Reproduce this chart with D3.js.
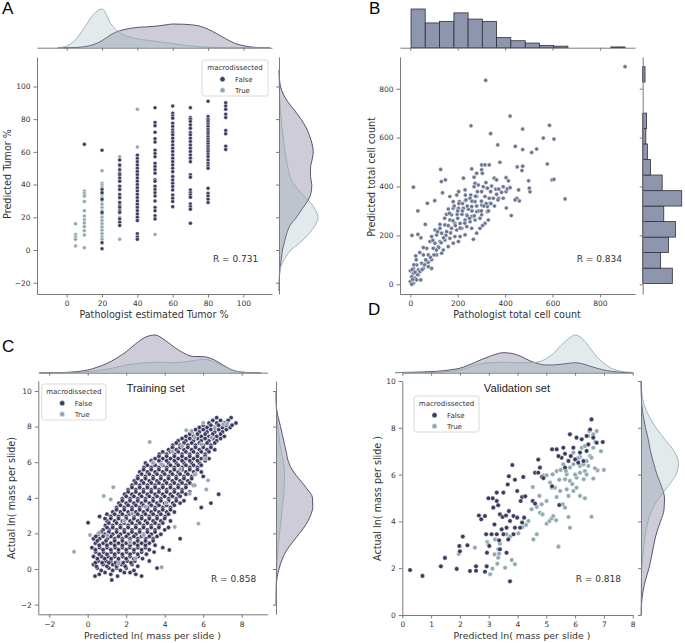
<!DOCTYPE html>
<html><head><meta charset="utf-8">
<script src="https://cdn.jsdelivr.net/npm/d3@7"></script>
<style>body{margin:0;background:#fff}svg{display:block}</style>
</head><body><svg id="c" width="685" height="643"></svg>
<script>
// ---------------- DATA ----------------
// Panel A: pathologist estimate categories and predicted tumor %
const aCategories = [5,10,20,30,40,50,60,70,80,90];
const aFalse = [
  [],
  [64.6],
  [61,37,35,31,23,4.5,0.8],
  [55,52,49,47,46,44,42,39,37,34,32,29,27,26,24,23,19,17,15],
  [58,56,54,52,50,48,46,44,42,40,38,36,34,32,30,28,26,24,22,20,18,10,8,6.5],
  [87,78,76,72,68,66,61,59,57,53,51,49,47,43,42,39,37,35,33,30,26,24,21,19],
  [88,83.6,82,80.6,77.5,75.5,73.4,71.8,70.4,68.3,66.3,64.2,62.2,60.2,58.1,56.1,54,52,50,47.9,44.9,42.8,40.8,38.8,36.7,33.7,31.6,29.6,26.5],
  [87,81,80,78.5,76.5,74.4,71.8,70.4,68.3,66.3,64.2,62.2,60.2,58.1,56.1,54,46,44.5,36.7,35,33.7,32.2,28.2,26.5,24.9,16.3],
  [91,81.6,80,78.5,77,75.5,73.8,72.4,71,69.3,67.7,66.3,64.9,63.2,61.6,60.2,58.7,57.1,55,53,51.4,50,37.7,34.7,33,31,29],
  [90,88,86,83,81,73,71,63.5,61.5]
];
const aTrue = [
  [16,9.5,8,6.5,2.5],
  [36,34.6,33,29.7,24,20.8,18.5,16.5,14.3,11.8,9.2,1.4],
  [48.5,40.8,39.5,38.2,36,34,32,30,28,26,24,22,20,18,16,14,12,10,8,6.5],
  [57,51,43,25,20,6.5],
  [86,63,47,37,27],
  [77,50,9.5],
  [70,55,45],
  [],
  [79,74,68],
  []
];
const aTopGrid  = [-5,0,5,10,15,20,25,30,35,40,45,50,55,60,65,70,75,80,85,90,95,100,105,110,115];
const aTopFalse = [0,0,0.2,1,3,7,13,17,19,20.3,20.8,21.5,22.5,23.7,23.5,23,21.7,18.5,14,9,4.5,2,0.6,0.1,0];
const aTopTrue  = [0,1.6,8,20,33,38.7,24,15,11,8.8,7.5,6.5,5.2,4.2,2.8,1.8,1,0.5,0.2,0,0,0,0,0,0];
const aRightGrid  = [-25,-20,-15,-10,-5,0,5,10,15,20,25,30,35,40,45,50,55,60,65,70,75,80,85,90,95,100,105,110];
const aRightFalse = [0,0.2,0.5,1.2,2.5,3.5,5.5,7.7,11,17.5,23,28.7,32,32.8,31.5,31.5,33,34.3,33,30.5,27,22,16,9.5,4.5,1.5,0.4,0];
const aRightTrue  = [0,0.2,0.6,2,6,12,22,30,36,39,36,30,22,15,11,9,7.5,6,5,4,3,2.3,1.5,1,0.5,0.2,0,0];

// Panel B: pathologist vs predicted total cell count
const bPoints = [
 [906,890],[318,834],[421,688],[256,648],[587,650],[474,635],[339,616],[561,598],[606,594],[369,570],
 [443,564],[474,551],[533,553],[512,539],[378,499],[578,492],[451,480],[474,483],[471,465],[128,470],
 [653,349],[598,427],[606,429],[499,423],[502,393],[505,378],[457,386],[460,341],[449,352],[426,281],
 [405,312],[13,397],[32,300],[7,200],[32,204],[45,190],[63,245],[23,116],[72,331],[103,342],
 [136,374],[131,420],[148,427],[224,434],
 [301,488],[315,488],[333,488],[301,468],[304,454],[269,438],[319,416],[354,434],[364,427],[404,436],
 [414,423],[273,413],[287,406],[269,399],[308,399],[325,393],[343,402],[361,389],[373,389],[339,379],
 [301,379],[283,379],[255,365],[232,365],[204,379],[196,365],[167,359],[181,338],[207,338],[232,342],
 [252,352],[280,359],[315,359],[333,352],[350,352],[373,352],[392,352],[404,379],[409,390],[421,395],
 [442,345],[336,331],[325,318],[301,324],[273,338],[259,318],[245,307],[224,311],[203,311],[181,311],
 [160,308],[153,286],[174,284],[198,286],[218,286],[238,284],[259,277],[280,297],[301,284],[325,297],
 [329,263],[315,249],[305,240],[294,270],[273,263],[252,256],[231,263],[210,249],[188,249],[167,263],
 [146,243],[125,229],[104,222],[90,195],[111,202],[132,209],[153,215],[174,229],[196,222],[217,229],
 [238,236],[259,229],[280,209],[294,229],[231,202],[210,195],[188,195],[167,188],[146,181],[125,175],
 [104,168],[83,175],[69,147],[97,147],[118,154],[139,140],[160,154],[181,168],[203,175],[266,184],
 [55,120],[76,120],[90,100],[111,120],[132,127],[69,93],[48,86],[27,79],[13,65],[34,59],
 [55,65],[76,72],[90,65],[13,45],[34,38],[20,25],[6,31],[0,11],[13,4],[27,18],
 [44,18],[6,0],[0,55],[41,52],[259,472],[280,454],[392,399],[385,376],[364,368],[231,386],
 [200,300],[220,330],[240,280],[260,300],[280,320],[300,340],[320,330],[250,270],[230,250],[210,230],
 [190,240],[170,210],[150,200],[130,170],[270,280],[290,300],[310,320],[330,300],[200,270],[180,260],
 [160,240],[140,190],[120,150],[110,140],[100,120],[85,110],[75,90],[65,100],[240,320],[220,300],
 [300,300],[340,330],[355,320],[370,345],[260,340],[275,360],[235,345],[205,330],[185,320],[165,290],
 [145,270],[125,245],[115,215],[95,180],[60,80],[50,60],[30,40],[20,50],[25,100],[40,130],
 [55,150],[15,80],[10,20],[8,60]
];
const bTopEdges  = [3,63,123,184,244,304,364,424,485,545,605,665,725,786,846,906];
const bTopCounts = [50,32,34,45,37,34,13,9,6,3,2,0,0,0,1];
const bRightEdges  = [3,66,130,193,257,320,383,447,510,574,637,700,764,827,890];
const bRightCounts = [38,23,33,42,27,50,25,10,6,4,5,0,0,3];

// Panel C: training set, rows of [actual, [predicted...]]
const cFalseRows = [
 [-0.62,[1.25]],[-0.4,[0.38,1.55,2.8]],[-0.2,[0.9,1.9,2.2]],[0.05,[0.5,1.1,1.5,2.0,3.6]],
 [0.25,[0.3,0.8,1.3,1.75,2.3]],[0.45,[0.55,0.95,1.2,1.6,2.05,2.45,3.2]],
 [0.7,[0.3,0.72,1.05,1.4,1.82,2.2,2.62]],[0.95,[0.42,0.82,1.22,1.6,2.02,2.4,2.8,3.45]],
 [1.07,[4.24]],[1.2,[0.22,0.62,1.0,1.42,1.8,2.18,2.6,3.0,3.9]],[1.45,[0.4,0.8,1.2,1.6,2.0,2.42,2.8,3.2]],
 [1.7,[0.3,0.62,1.02,1.4,1.8,2.2,2.6,3.02,3.4,4.8]],[1.95,[0.55,0.9,1.3,1.7,2.1,2.5,2.9,3.3,3.8]],
 [2.2,[0.8,1.12,1.5,1.9,2.3,2.7,3.1,3.5,4.0]],[2.45,[0.92,1.3,1.7,2.1,2.5,2.9,3.3,3.7]],
 [2.6,[0.02]],[2.7,[1.0,1.4,1.8,2.2,2.6,3.0,3.4,3.8,4.3]],[2.95,[0.62,1.2,1.6,2.0,2.4,2.8,3.2,3.6,4.02]],
 [3.2,[1.3,1.7,2.1,2.5,2.9,3.3,3.7,4.1,4.5]],[3.45,[1.5,1.9,2.3,2.7,3.1,3.5,3.9,4.3,5.9]],
 [3.7,[1.62,2.0,2.4,2.8,3.2,3.6,4.0,4.42,4.8,6.4]],[3.95,[1.8,2.2,2.6,3.0,3.4,3.8,4.2,4.6,5.6]],
 [4.2,[1.92,2.3,2.7,3.1,3.5,3.9,4.3,4.7,5.1,6.8]],[4.45,[2.1,2.5,2.9,3.3,3.7,4.1,4.5,4.9]],
 [4.7,[2.3,2.7,3.1,3.5,3.9,4.3,4.7,5.1,5.5]],[4.95,[2.42,2.8,3.2,3.6,4.0,4.4,4.8,5.2]],
 [5.2,[2.6,3.0,3.4,3.8,4.2,4.6,5.0,5.4,6.0]],[5.45,[2.7,3.1,3.5,3.9,4.3,4.7,5.1,5.5,5.9]],
 [5.7,[2.92,3.3,3.7,4.1,4.5,4.9,5.3,5.7]],[5.95,[3.0,3.4,3.8,4.2,4.6,5.0,5.4,5.8]],
 [6.2,[3.5,3.9,4.3,4.7,5.1,5.5,5.9,6.3]],[6.45,[3.72,4.1,4.5,4.9,5.3,5.7,6.1]],
 [6.7,[4.2,4.6,5.0,5.4,5.8,6.2,6.6]],[6.95,[4.42,4.8,5.2,5.6,6.0,6.4]],
 [7.2,[4.7,5.1,5.5,5.9,6.3,6.7]],[7.45,[5.1,5.5,5.9,6.3,6.7,7.1]],
 [7.7,[5.42,5.8,6.2,6.6,7.0]],[7.95,[5.8,6.2,6.6,7.0,7.4]],[8.2,[6.3,6.7,7.1,7.7]],[8.5,[6.7,7.45]],
 [-0.3,[0.6,1.2,2.5]],[-0.08,[0.7,1.3,1.7,2.4]],[0.15,[0.45,1.0,1.5,1.95,2.6]],
 [0.35,[0.4,0.75,1.1,1.45,1.85,2.25]],[0.58,[0.5,0.88,1.22,1.6,2.0,2.4,2.85]],
 [0.83,[0.6,1.0,1.4,1.8,2.2,2.6,3.05]],[1.08,[0.4,0.8,1.2,1.6,2.0,2.4,2.8,3.2]],
 [1.33,[0.6,1.0,1.4,1.8,2.2,2.6,3.0,3.5]],[1.58,[0.5,0.95,1.4,1.8,2.2,2.6,3.0,3.4]],
 [1.83,[0.42,0.8,1.2,1.6,2.0,2.4,2.8,3.2,3.6]],[2.08,[0.7,1.1,1.5,1.9,2.3,2.7,3.1,3.5]],
 [2.33,[1.0,1.3,1.7,2.1,2.5,2.9,3.3,3.7,4.2]],[2.58,[1.1,1.5,1.9,2.3,2.7,3.1,3.5,3.9]],
 [2.83,[0.9,1.2,1.6,2.0,2.4,2.8,3.2,3.6,4.0]],[3.08,[1.0,1.4,1.8,2.2,2.6,3.0,3.4,3.8,4.2]],
 [3.33,[1.5,1.9,2.3,2.7,3.1,3.5,3.9,4.3]],[3.58,[1.7,2.1,2.5,2.9,3.3,3.7,4.1,4.5]],
 [3.83,[1.8,2.2,2.6,3.0,3.4,3.8,4.2,4.6,5.0]],[4.08,[2.0,2.4,2.8,3.2,3.6,4.0,4.4,4.8]],
 [4.33,[2.1,2.5,2.9,3.3,3.7,4.1,4.5,4.9,5.3]],[4.58,[2.3,2.7,3.1,3.5,3.9,4.3,4.7,5.1]],
 [4.83,[2.5,2.9,3.3,3.7,4.1,4.5,4.9,5.3]],[5.08,[2.6,3.0,3.4,3.8,4.2,4.6,5.0,5.4]],
 [5.33,[2.8,3.2,3.6,4.0,4.4,4.8,5.2,5.6]],[5.58,[2.9,3.3,3.7,4.1,4.5,4.9,5.3,5.7]],
 [5.83,[3.1,3.5,3.9,4.3,4.7,5.1,5.5,5.9]],[6.08,[3.3,3.7,4.1,4.5,4.9,5.3,5.7,6.1]],
 [6.33,[3.7,4.1,4.5,4.9,5.3,5.7,6.1]],[6.58,[3.9,4.3,4.7,5.1,5.5,5.9,6.3]],
 [6.83,[4.4,4.8,5.2,5.6,6.0,6.4]],[7.08,[4.6,5.0,5.4,5.8,6.2,6.6]],
 [7.33,[4.9,5.3,5.7,6.1,6.5,6.9]],[7.58,[5.3,5.7,6.1,6.5,6.9]],
 [7.83,[5.6,6.0,6.4,6.8,7.2]],[8.08,[6.0,6.4,6.8,7.2,7.5]],[8.35,[6.5,6.9,7.3]]
];
const cTrue = [
 [-0.71,0.97],[0.12,1.91],[0.59,2.04],[1.02,1.89],[0.83,4.1],[1.33,4.59],[1.2,3.91],[3.22,7.13],
 [3.84,0.1],[5.75,2.55],[4.52,2.36],[4.09,3.72],[5.12,7.79],[5.39,7.75],[5.56,7.38],[6.42,7.38],
 [7.03,8.13],[7.25,8.16],[5.56,5.3],[6.25,4.98],[6.16,4.47],[5.56,4.7],[5.3,4.23],[3.39,5.97],
 [3.83,5.88],[2.2,1.5],[1.6,0.3],[2.5,0.6],[2.9,1.9],[4.4,6.6],[5.9,7.0],[6.1,6.2],[4.8,5.6],
 [3.0,3.5],[2.3,3.1],[1.9,2.7],[6.6,7.9],[6.0,8.2],[4.9,6.9]
];
const cTopGrid  = [-2.5,-2,-1.5,-1,-0.5,0,0.5,1,1.5,2,2.5,3,3.5,4,4.5,5,5.5,6,6.5,7,7.5,8,8.5,9];
const cTopFalse = [0,0,0.1,0.4,1.2,2.7,5.5,9.3,14.5,21,29,35.5,37.7,32.7,25.5,19.5,16.2,16,13.5,8,2.8,0.6,0.1,0];
const cTopTrue  = [0,0,0,0.1,0.4,1,2,3.4,5.5,7.7,9,10,10.4,10.3,10,10.8,12,13.4,11.5,7,2.5,0.5,0,0];
const cRightGrid  = [-2,-1.5,-1,-0.5,0,0.5,1,1.5,2,2.5,3,3.5,4,4.5,5,5.5,6,6.5,7,7.5,8,8.5,9,9.5,10];
const cRightFalse = [0,0.1,0.3,1,3,6,10,16.5,23.5,30,34.5,36.8,36.5,31,24,17,12.5,10.5,8.5,6.5,4.5,2.3,0.6,0.1,0];
const cRightTrue  = [0,0,0.1,0.2,0.5,1,1.8,2.6,3.5,4.5,5.5,6.5,7.5,8,8.5,8.5,7.5,5.8,4,3,2,1,0.3,0,0];

// Panel D: validation set [predicted, actual]
const dFalse = [
 [0.27,1.92],[0.70,1.67],[1.34,2.08],[1.48,2.44],[1.89,1.97],[1.98,2.95],[2.0,2.72],[2.10,3.35],
 [2.26,2.98],[2.35,1.88],[2.56,2.08],[2.56,1.89],[2.87,1.85],[2.93,2.08],[3.74,1.44],[2.66,4.25],
 [2.74,4.09],[2.87,4.23],[2.91,3.45],[2.99,4.99],[3.14,4.99],[3.28,5.23],[3.51,5.23],[3.70,5.93],
 [3.82,6.41],[3.66,5.58],[3.91,5.78],[3.99,5.30],[4.20,5.90],[4.16,5.04],[4.11,4.87],[4.27,5.07],
 [3.28,4.87],[3.33,4.69],[3.16,4.59],[3.39,4.30],[3.48,4.19],[3.60,4.25],[3.70,4.44],[3.86,4.23],
 [3.99,4.16],[4.16,3.95],[4.23,4.16],[3.20,3.87],[3.28,3.45],[3.36,3.19],[3.45,3.66],[3.51,3.45],
 [3.62,3.73],[3.74,4.02],[3.91,3.73],[3.39,2.81],[3.62,2.66],[2.94,2.66],[3.02,2.95],[3.10,3.45],
 [4.72,6.64],[4.78,6.30],[4.61,6.08],[4.72,6.08],[4.53,4.87],[4.61,4.76],[4.09,3.73],[3.86,3.45],
 [3.68,3.23],[4.85,5.9],[5.2,5.5],[5.45,4.7],[4.9,5.85],
 [5.20,7.08],[5.36,7.08],[5.53,6.72],[5.65,6.89],[5.82,7.72],[6.05,7.58],[6.23,7.51],[5.94,7.15],
 [5.85,6.79],[6.00,6.65],[6.17,6.94],[6.29,6.58],[6.40,7.01],[6.46,7.29],[6.57,8.36],[6.52,7.93],
 [6.63,7.58],[6.75,7.36],[6.96,7.39],[6.40,7.65],[6.11,6.51],[5.77,6.58],[5.65,6.30],[5.59,7.15],[5.42,6.79]
];
const dTrue = [
 [3.05,1.74],[3.13,1.98],[3.30,2.19],[3.33,2.45],[3.36,2.62],[3.57,2.02],[3.91,2.17],[3.80,2.35],
 [2.52,2.88],[1.96,2.61],[2.95,3.12],[3.22,3.23],[3.39,3.05],[3.62,3.45],[3.74,3.35],[4.03,3.49],
 [4.18,3.76],[4.30,3.85],[4.38,4.02],[4.49,4.52],[4.67,4.62],[4.78,4.37],[4.87,4.30],[5.01,3.90],
 [5.11,4.02],[5.19,4.13],[5.24,4.23],[5.34,4.05],[5.42,2.92],[4.55,3.23],[4.67,3.45],[4.53,5.47],
 [4.90,5.97],[5.01,5.97],[5.13,5.66],[5.22,6.01],[5.30,5.44],[5.45,5.78],[5.36,5.04],[5.48,5.30],
 [5.71,5.37],[5.77,5.09],[5.57,4.73],[5.65,4.59],[5.77,4.19],[5.82,3.73],[5.94,5.30],[6.05,5.44],
 [6.17,5.09],[6.34,4.99],[6.57,4.20],[6.63,5.83],[6.78,6.18],[6.69,6.27],[6.34,6.15],[6.17,6.08],
 [6.05,5.87],[5.82,5.73],[5.71,6.01],[5.65,5.80],[5.68,6.15],[5.82,6.30],[5.94,6.44],[6.17,6.37],
 [6.29,6.44],[6.40,6.58],[6.52,6.79],[6.23,7.15],[6.34,7.22],[6.46,7.65],[6.63,7.72],[6.75,7.86],
 [6.49,7.86],[6.63,7.15],[6.57,6.72],[6.46,6.37],[6.17,6.75],[5.94,6.94],[5.59,6.44],[5.36,6.15],
 [5.19,5.44],[5.01,4.87],[4.84,4.73],[4.76,5.09],[2.99,3.02],[3.33,2.81],[3.20,2.59],
 [6.0,6.0],[5.9,5.6],[6.3,5.8],[6.1,6.7],[5.75,6.6],[6.4,6.0],[5.5,6.2],[6.7,7.4],[6.9,7.0],[7.0,6.2]
];
const dTopGrid  = [-0.25,0,0.25,0.5,0.75,1,1.25,1.5,1.75,2,2.25,2.5,2.75,3,3.25,3.5,3.75,4,4.25,4.5,4.75,5,5.25,5.5,5.75,6,6.25,6.5,6.75,7,7.25,7.5,7.75,8];
const dTopFalse = [0,0.3,0.4,0.6,0.8,1.1,1.5,2.2,3.2,4.5,7,10,13.2,16,18.5,20,19.5,17.7,14.5,11,8.8,7.7,7.8,8.4,9.3,10,9,6.7,4.5,2.7,1.4,0.6,0.2,0];
const dTopTrue  = [0,0,0,0.1,0.2,0.3,0.5,1,1.7,2.7,4.8,7.2,9,10,10.3,10.4,10.2,10,10,10.2,11,14,19.4,27,33.5,37.7,34,25.5,16,9.4,4.5,2,0.8,0.2];
const dRightGrid  = [0,0.5,1,1.5,2,2.5,3,3.5,4,4.5,5,5.5,6,6.5,7,7.5,8,8.5,9,9.5,10];
const dRightFalse = [0.2,0.6,2,4.5,8,10.5,12.8,15.5,19.5,23,23.5,20.5,16,12.5,9.5,7.3,4.5,2.3,0.8,0.2,0];
const dRightTrue  = [0,0.1,0.2,0.4,0.8,1.8,3,4.5,7,11,18,27,35,37.5,33,24,15,8,3,0.8,0.1];

const legendLabels = ["False","True"];

// ---------------- DRAWING ----------------
const COL_F = "#3d3960", COL_T = "#8eaab0", COL_B = "#6b7491";
const HIST_FILL = "#8d96ac", HIST_EDGE = "#30303c";
const SPINE = "#7a7a7a";
const svg = d3.select("#c");
const TXT = "DejaVu Sans, sans-serif";

function styleAxis(g){
  g.selectAll("path.domain").attr("stroke",SPINE).attr("stroke-width",1);
  g.selectAll(".tick line").attr("stroke",SPINE);
  g.selectAll(".tick text").attr("fill","#333").attr("font-size","7.5px").attr("font-family",TXT);
}
function mainAxes(x,y,xt,yt){
  svg.append("g").attr("transform",`translate(0,${y.range()[0]})`)
    .call(d3.axisBottom(x).tickValues(xt).tickSize(3.5).tickPadding(3.5).tickSizeOuter(0)).call(styleAxis);
  svg.append("g").attr("transform",`translate(${x.range()[0]},0)`)
    .call(d3.axisLeft(y).tickValues(yt).tickSize(3.5).tickPadding(3).tickSizeOuter(0)).call(styleAxis);
}
function topSpine(x,base,xt){
  svg.append("g").attr("transform",`translate(0,${base})`)
    .call(d3.axisBottom(x).tickValues(xt).tickFormat("").tickSize(3).tickSizeOuter(0)).call(styleAxis);
}
function rightSpine(y,base,yt){
  svg.append("g").attr("transform",`translate(${base},0)`)
    .call(d3.axisLeft(y).tickValues(yt).tickFormat("").tickSize(3).tickSizeOuter(0)).call(styleAxis);
}
function kdeTop(x,base,grid,vals,color){
  const h = d3.scaleLinear().domain([0,40]).range([base,base-40]);
  const pts = grid.map((g,i)=>[g,vals[i]]);
  svg.append("path").datum(pts)
    .attr("d",d3.area().x(d=>x(d[0])).y0(base).y1(d=>h(d[1])).curve(d3.curveMonotoneX))
    .attr("fill",color).attr("fill-opacity",0.25);
  svg.append("path").datum(pts)
    .attr("d",d3.line().x(d=>x(d[0])).y(d=>h(d[1])).curve(d3.curveMonotoneX))
    .attr("fill","none").attr("stroke",color).attr("stroke-width",1).attr("stroke-opacity",0.85);
}
function kdeRight(y,base,grid,vals,color){
  const w = d3.scaleLinear().domain([0,40]).range([base,base+40]);
  const pts = grid.map((g,i)=>[g,vals[i]]);
  svg.append("path").datum(pts)
    .attr("d",d3.area().y(d=>y(d[0])).x0(base).x1(d=>w(d[1])).curve(d3.curveMonotoneY))
    .attr("fill",color).attr("fill-opacity",0.25);
  svg.append("path").datum(pts)
    .attr("d",d3.line().y(d=>y(d[0])).x(d=>w(d[1])).curve(d3.curveMonotoneY))
    .attr("fill","none").attr("stroke",color).attr("stroke-width",1).attr("stroke-opacity",0.85);
}
function dots(pts,x,y,r,color){
  svg.append("g").selectAll("circle").data(pts).join("circle")
    .attr("cx",d=>x(d[0])).attr("cy",d=>y(d[1])).attr("r",r)
    .attr("fill",color).attr("stroke","#fff").attr("stroke-width",0.5);
}
function legend(x0,y0,w,h){
  const g = svg.append("g");
  g.append("rect").attr("x",x0).attr("y",y0).attr("width",w).attr("height",h).attr("rx",2)
    .attr("fill","#fff").attr("fill-opacity",0.8).attr("stroke","#d0d0d0").attr("stroke-width",0.8);
  g.append("text").attr("x",x0+w/2).attr("y",y0+9.5).attr("text-anchor","middle")
    .attr("font-family",TXT).attr("font-size","7px").attr("fill","#333").text("macrodissected");
  [COL_F,COL_T].forEach((c,i)=>{
    g.append("circle").attr("cx",x0+20.5).attr("cy",y0+19.2+i*11).attr("r",2.6).attr("fill",c)
      .attr("stroke","#fff").attr("stroke-width",0.5);
    g.append("text").attr("x",x0+33).attr("y",y0+22+i*11).attr("font-family",TXT)
      .attr("font-size","7px").attr("fill","#333").text(legendLabels[i]);
  });
}
function label(x,y,t,opts={}){
  const e = svg.append("text").attr("x",x).attr("y",y).text(t)
    .attr("font-family",opts.font||TXT).attr("font-size",(opts.size||9.6)+"px")
    .attr("fill",opts.fill||"#333").attr("text-anchor",opts.anchor||"middle");
  if(opts.rot) e.attr("transform",`rotate(-90,${x},${y})`);
  return e;
}

// ---- Panel A ----
const xA = d3.scaleLinear().domain([-16.8,116.2]).range([37,272]);
const yA = d3.scaleLinear().domain([-26.9,118]).range([294,57]);
kdeTop(xA,47.7,aTopGrid,aTopFalse,COL_F);
kdeTop(xA,47.7,aTopGrid,aTopTrue,COL_T);
kdeRight(yA,279,aRightGrid,aRightFalse,COL_F);
kdeRight(yA,279,aRightGrid,aRightTrue,COL_T);
topSpine(xA,47.7,[0,20,40,60,80,100]);
rightSpine(yA,279,[-20,0,20,40,60,80,100]);
mainAxes(xA,yA,[0,20,40,60,80,100],[-20,0,20,40,60,80,100]);
const aT = [], aF = [];
aCategories.forEach((c,i)=>{ aTrue[i].forEach(v=>aT.push([c,v])); aFalse[i].forEach(v=>aF.push([c,v])); });
dots(aT,xA,yA,2.0,COL_T);
dots(aF,xA,yA,2.0,COL_F);
legend(202,60,66,36);
label(213,261.5,"R = 0.731",{anchor:"start",size:9});
label(154,317.5,"Pathologist estimated Tumor %");
label(11,174,"Predicted Tumor %",{rot:true});

// ---- Panel B ----
const xB = d3.scaleLinear().domain([-43.5,948]).range([400,635]);
const yB = d3.scaleLinear().domain([-39.7,929.6]).range([294,57]);
const hTop = d3.scaleLinear().domain([0,50]).range([0,38.7]);
const hRight = d3.scaleLinear().domain([0,50]).range([0,39]);
svg.append("g").selectAll("rect").data(bTopCounts.map((c,i)=>({c,i})).filter(d=>d.c>0)).join("rect")
  .attr("x",d=>xB(bTopEdges[d.i])).attr("width",d=>xB(bTopEdges[d.i+1])-xB(bTopEdges[d.i]))
  .attr("y",d=>47.7-hTop(d.c)).attr("height",d=>hTop(d.c))
  .attr("fill",HIST_FILL).attr("stroke",HIST_EDGE).attr("stroke-width",0.8);
svg.append("g").selectAll("rect").data(bRightCounts.map((c,i)=>({c,i})).filter(d=>d.c>0)).join("rect")
  .attr("y",d=>yB(bRightEdges[d.i+1])).attr("height",d=>yB(bRightEdges[d.i])-yB(bRightEdges[d.i+1]))
  .attr("x",642.7).attr("width",d=>hRight(d.c))
  .attr("fill",HIST_FILL).attr("stroke",HIST_EDGE).attr("stroke-width",0.8);
topSpine(xB,47.7,[0,200,400,600,800]);
rightSpine(yB,642.7,[0,200,400,600,800]);
mainAxes(xB,yB,[0,200,400,600,800],[0,200,400,600,800]);
dots(bPoints,xB,yB,2.1,COL_B);
label(576.7,261.5,"R = 0.834",{anchor:"start",size:9});
label(517,317.5,"Pathologist total cell count");
label(375,177,"Predicted total cell count",{rot:true});

// ---- Panel C ----
const xC = d3.scaleLinear().domain([-2.566,9.35]).range([38.3,267.7]);
const yC = d3.scaleLinear().domain([-2.545,10.56]).range([614.3,381]);
kdeTop(xC,372.7,cTopGrid,cTopFalse,COL_F);
kdeTop(xC,372.7,cTopGrid,cTopTrue,COL_T);
kdeRight(yC,276,cRightGrid,cRightFalse,COL_F);
kdeRight(yC,276,cRightGrid,cRightTrue,COL_T);
topSpine(xC,372.7,[-2,0,2,4,6,8]);
rightSpine(yC,276,[-2,0,2,4,6,8,10]);
mainAxes(xC,yC,[-2,0,2,4,6,8],[-2,0,2,4,6,8,10]);
const cF = [];
cFalseRows.forEach(([yv,xs])=>xs.forEach(xv=>cF.push([xv,yv])));
dots(cF,xC,yC,2.2,COL_F);
dots(cTrue,xC,yC,2.2,COL_T);
legend(41.7,384,64.3,36);
label(155.5,392,"Training set",{font:"Liberation Sans, Arial, sans-serif",size:11.2,fill:"#222"});
label(211,581.5,"R = 0.858",{anchor:"start",size:9});
label(152.5,638.8,"Predicted ln( mass per slide )",{size:9.4});
label(15,498,"Actual ln( mass per slide)",{rot:true});

// ---- Panel D ----
const xD = d3.scaleLinear().domain([0,8]).range([402.3,632.7]);
const yD = d3.scaleLinear().domain([0,10]).range([615,381]);
kdeTop(xD,372.7,dTopGrid,dTopFalse,COL_F);
kdeTop(xD,372.7,dTopGrid,dTopTrue,COL_T);
kdeRight(yD,641,dRightGrid,dRightFalse,COL_F);
kdeRight(yD,641,dRightGrid,dRightTrue,COL_T);
topSpine(xD,372.7,[0,1,2,3,4,5,6,7,8]);
rightSpine(yD,641,[0,2,4,6,8,10]);
mainAxes(xD,yD,[0,1,2,3,4,5,6,7,8],[0,2,4,6,8,10]);
dots(dTrue,xD,yD,2.3,COL_T);
dots(dFalse,xD,yD,2.3,COL_F);
legend(414,396,65,36);
label(517,392,"Validation set",{font:"Liberation Sans, Arial, sans-serif",size:11.2,fill:"#222"});
label(575.7,581.5,"R = 0.818",{anchor:"start",size:9});
label(522,638.8,"Predicted ln( mass per slide )",{size:9.4});
label(381,498.5,"Actual ln( mass per slide )",{rot:true});

// ---- Panel letters ----
const LF = {font:"Liberation Sans, Arial, sans-serif",size:17,fill:"#000",anchor:"start"};
label(2,14,"A",LF); label(369,14,"B",LF); label(2,352,"C",LF); label(368,315,"D",LF);
</script></body></html>
